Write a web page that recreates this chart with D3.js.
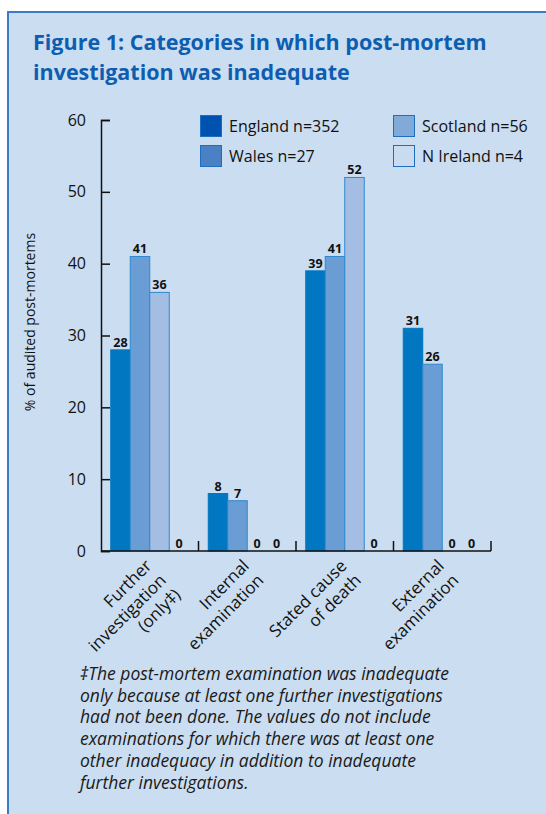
<!DOCTYPE html>
<html><head><meta charset="utf-8">
<script src="https://cdn.jsdelivr.net/npm/d3@7"></script>
<style>
html,body{margin:0;padding:0;background:#fff;}
svg{display:block;font-family:"Open Sans","Noto Sans",sans-serif;}
</style></head>
<body>
<script>
const categories = [
  ["Further", "investigation", "(only\u2021)"],
  ["Internal", "examination"],
  ["Stated cause", "of death"],
  ["External", "examination"]
];
const seriesNames = ["England n=352", "Wales n=27", "Scotland n=56", "N Ireland n=4"];
const england  = [28, 8, 39, 31];
const wales    = [41, 7, 41, 26];
const scotland = [36, 0, 52, 0];
const nireland = [0, 0, 0, 0];
const yTicks = [0, 10, 20, 30, 40, 50, 60];
const footnote = [
  "\u2021The post-mortem examination was inadequate",
  "only because at least one further investigations",
  "had not been done. The values do not include",
  "examinations for which there was at least one",
  "other inadequacy in addition to inadequate",
  "further investigations."
];

const seriesValues = [england, wales, scotland, nireland];
const barColors = ["#0077c0", "#6a9dd3", "#a4bde3", "#c6daef"];
const legendColors = ["#0052b0", "#4a80c4", "#82aad9", "#c8dbef"];

const W = 546, H = 814;
const svg = d3.select("body").append("svg").attr("width", W).attr("height", H);

// panel
svg.append("rect").attr("x", 8).attr("y", 12).attr("width", W).attr("height", H)
  .attr("fill", "#cbddf0").attr("stroke", "#3a7cc8").attr("stroke-width", 2);

// title
const title = svg.append("text").attr("fill", "#0d5db1").attr("font-weight", "bold").attr("font-size", 21.5);
title.append("tspan").attr("x", 33).attr("y", 50).text("Figure 1: Categories in which post-mortem");
title.append("tspan").attr("x", 33).attr("y", 80).text("investigation was inadequate");

const x0 = d3.scaleBand().domain(d3.range(categories.length)).range([101, 491]).padding(0);
const x1 = d3.scaleBand().domain(d3.range(seriesNames.length)).range([0, x0.bandwidth()])
  .paddingInner(0).paddingOuter(0.5);
const y = d3.scaleLinear().domain([0, 60]).range([551, 120]);

// bars
categories.forEach((c, ci) => {
  const g = svg.append("g").attr("transform", `translate(${x0(ci)},0)`);
  seriesValues.forEach((vals, si) => {
    const v = vals[ci];
    if (v > 0) {
      g.append("rect")
        .attr("x", x1(si)).attr("y", y(v))
        .attr("width", x1.bandwidth()).attr("height", y(0) - y(v))
        .attr("fill", barColors[si])
        .attr("stroke", si === 0 ? "#0077c0" : "#2f88cf").attr("stroke-width", 1);
    }
    g.append("text")
      .attr("x", x1(si) + x1.bandwidth() / 2)
      .attr("y", y(v) - 3)
      .attr("text-anchor", "middle")
      .attr("font-size", 12.5).attr("font-weight", "bold").attr("fill", "#111")
      .text(v);
  });
});

// y axis
const yAxis = d3.axisLeft(y).tickValues(yTicks).tickSize(-9).tickPadding(15);
const ya = svg.append("g").attr("transform", "translate(101,0)").call(yAxis);
ya.select(".domain").attr("stroke", "#111").attr("stroke-width", 1.5);
ya.selectAll(".tick line").attr("stroke", "#111").attr("stroke-width", 1.5);
ya.selectAll(".tick text").attr("font-size", 16).attr("fill", "#111")
  .attr("font-family", "'Open Sans','Noto Sans',sans-serif");

// x axis baseline + category ticks
svg.append("line").attr("x1", 101).attr("x2", 491).attr("y1", y(0)).attr("y2", y(0))
  .attr("stroke", "#111").attr("stroke-width", 1.5);
categories.forEach((c, ci) => {
  const xr = x0(ci) + x0.bandwidth();
  svg.append("line").attr("x1", xr).attr("x2", xr).attr("y1", y(0) - 10).attr("y2", y(0))
    .attr("stroke", "#111").attr("stroke-width", 1.5);
});

// category labels
categories.forEach((lines, ci) => {
  const cx = x0(ci) + x0.bandwidth() / 2;
  const t = svg.append("text")
    .attr("transform", `translate(${cx - 7},${y(0) + 6}) rotate(-45)`)
    .attr("text-anchor", "end").attr("font-size", 17).attr("fill", "#111");
  lines.forEach((l, li) => {
    t.append("tspan").attr("x", 0).attr("y", 14 + li * 20.5).text(l);
  });
});

// y label
svg.append("text").attr("transform", "translate(35,322) rotate(-90)")
  .attr("text-anchor", "middle").attr("font-size", 14).attr("fill", "#111")
  .text("% of audited post-mortems");

// legend
const legendPos = [[200, 115], [200, 145], [393, 115], [393, 145]];
seriesNames.forEach((n, i) => {
  const [lx, ly] = legendPos[i];
  svg.append("rect").attr("x", lx + 0.5).attr("y", ly + 0.5).attr("width", 21).attr("height", 21)
    .attr("fill", legendColors[i]).attr("stroke", "#1f6dc0").attr("stroke-width", 1);
  svg.append("text").attr("x", lx + 29).attr("y", ly + 17)
    .attr("font-size", 16).attr("fill", "#111").text(n);
});

// footnote
const fn = svg.append("text").attr("font-size", 17.5).attr("font-style", "italic").attr("fill", "#1a1a1a");
footnote.forEach((l, i) => {
  fn.append("tspan").attr("x", 80).attr("y", 680 + i * 21.7).text(l);
});
</script>
</body></html>
